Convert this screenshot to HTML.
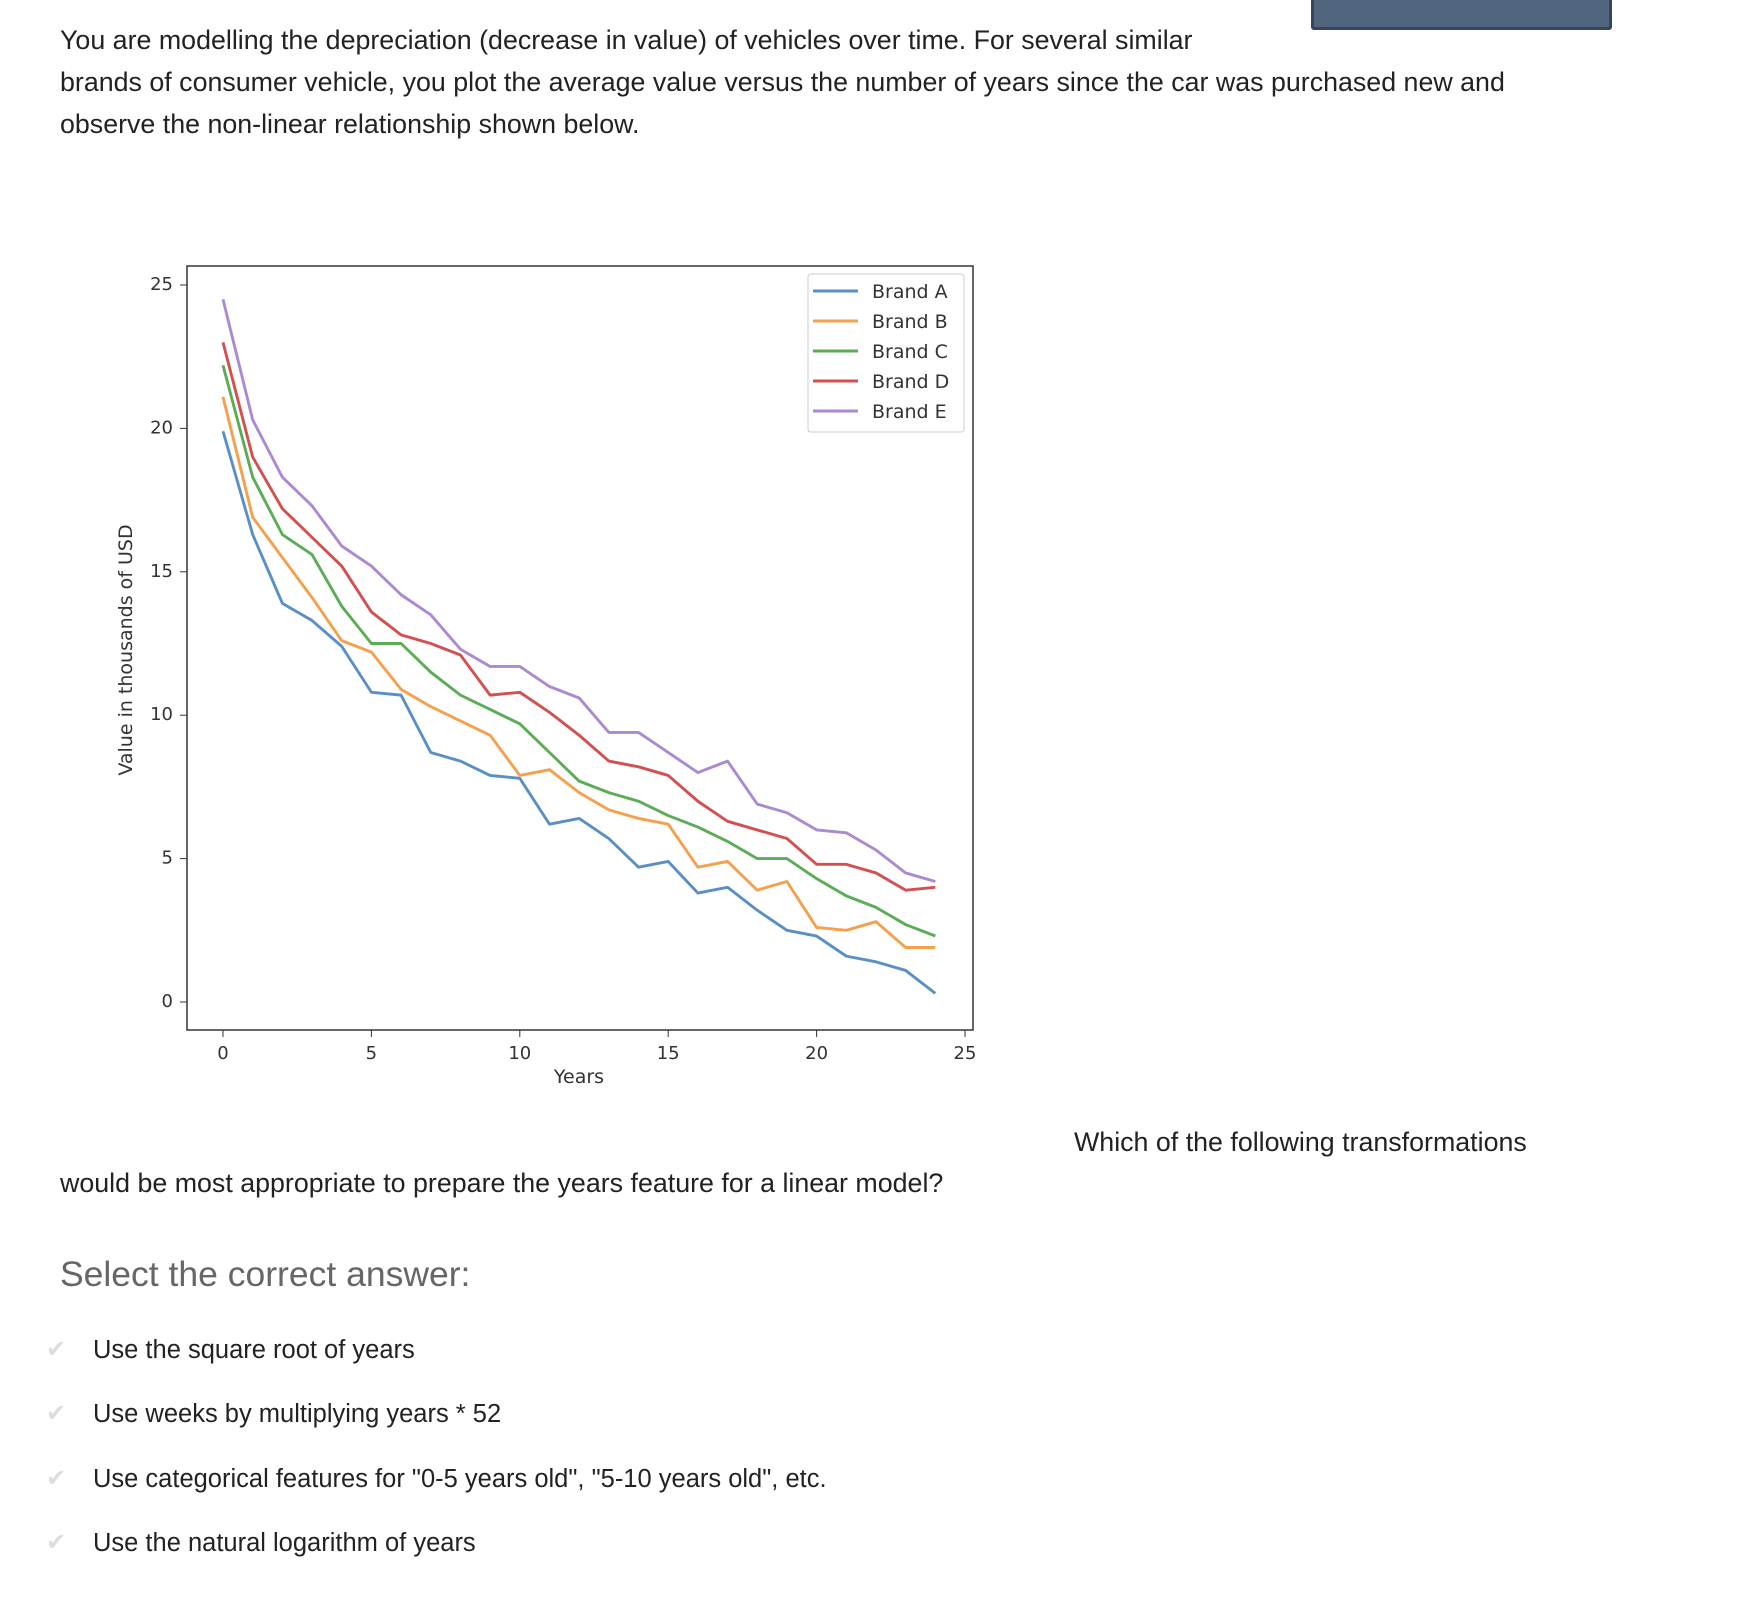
<!DOCTYPE html>
<html><head><meta charset="utf-8"><style>
body{margin:0;width:1764px;height:1604px;background:#fff;position:relative;overflow:hidden;font-family:"Liberation Sans",sans-serif;color:#222}
.t{position:absolute;font-size:26.8px;white-space:nowrap;line-height:1}
.opt{position:absolute;left:93px;font-size:25.5px;white-space:nowrap;line-height:1;color:#222}
.chk{position:absolute;left:46px;font-size:24px;color:#ddd;line-height:1}
</style></head><body>
<div style="position:absolute;left:1311px;top:-4px;width:295px;height:28px;background:#51657e;border:3px solid #34465a;border-radius:3px"></div>
<div class="t" style="left:60px;top:27px">You are modelling the depreciation (decrease in value) of vehicles over time. For several similar</div>
<div class="t" style="left:60px;top:69px">brands of consumer vehicle, you plot the average value versus the number of years since the car was purchased new and</div>
<div class="t" style="left:60px;top:111px">observe the non-linear relationship shown below.</div>

<svg id="chart" width="1764" height="1110" style="position:absolute;left:0;top:0" font-family="DejaVu Sans, sans-serif">
<rect x="187" y="266" width="786" height="764" fill="none" stroke="#333" stroke-width="1.5"/>
<g id="ticks"></g><g id="lines"></g>
<text x="579" y="1083" font-size="19" text-anchor="middle" fill="#333">Years</text>
<text transform="translate(132,650) rotate(-90)" font-size="19" text-anchor="middle" fill="#333">Value in thousands of USD</text>
<g>
<rect x="808" y="274" width="156" height="158" fill="#fff" stroke="#ccc" rx="3"/>
<g id="legend"></g></g>
</svg>

<div class="t" style="left:1074px;top:1129px">Which of the following transformations</div>
<div class="t" style="left:60px;top:1170px">would be most appropriate to prepare the years feature for a linear model?</div>
<div class="t" style="left:60px;top:1257px;font-size:35.5px;color:#666">Select the correct answer:</div>
<div class="chk" style="top:1338px">✔</div>
<div class="opt" style="top:1338px">Use the square root of years</div>
<div class="chk" style="top:1402px">✔</div>
<div class="opt" style="top:1402px">Use weeks by multiplying years * 52</div>
<div class="chk" style="top:1467px">✔</div>
<div class="opt" style="top:1467px">Use categorical features for "0-5 years old", "5-10 years old", etc.</div>
<div class="chk" style="top:1531px">✔</div>
<div class="opt" style="top:1531px">Use the natural logarithm of years</div>

<script>
const brands=["Brand A","Brand B","Brand C","Brand D","Brand E"];
const brandA=[19.9,16.3,13.9,13.3,12.4,10.8,10.7,8.7,8.4,7.9,7.8,6.2,6.4,5.7,4.7,4.9,3.8,4.0,3.2,2.5,2.3,1.6,1.4,1.1,0.3];
const brandB=[21.1,16.9,15.5,14.1,12.6,12.2,10.9,10.3,9.8,9.3,7.9,8.1,7.3,6.7,6.4,6.2,4.7,4.9,3.9,4.2,2.6,2.5,2.8,1.9,1.9];
const brandC=[22.2,18.3,16.3,15.6,13.8,12.5,12.5,11.5,10.7,10.2,9.7,8.7,7.7,7.3,7.0,6.5,6.1,5.6,5.0,5.0,4.3,3.7,3.3,2.7,2.3];
const brandD=[23.0,19.0,17.2,16.2,15.2,13.6,12.8,12.5,12.1,10.7,10.8,10.1,9.3,8.4,8.2,7.9,7.0,6.3,6.0,5.7,4.8,4.8,4.5,3.9,4.0];
const brandE=[24.5,20.3,18.3,17.3,15.9,15.2,14.2,13.5,12.3,11.7,11.7,11.0,10.6,9.4,9.4,8.7,8.0,8.4,6.9,6.6,6.0,5.9,5.3,4.5,4.2];
const xTicks=[0,5,10,15,20,25];
const yTicks=[0,5,10,15,20,25];
const series=[brandA,brandB,brandC,brandD,brandE];
const colors=["#5a8fc6","#f5a04c","#5aad55","#d35050","#aa8ad0"];
const NS="http://www.w3.org/2000/svg";
const xs=v=>223+v*(965-223)/25;
const ys=v=>1002-v*(1002-285)/25;
function mk(tag,attrs,parent){const e=document.createElementNS(NS,tag);for(const k in attrs)e.setAttribute(k,attrs[k]);parent.appendChild(e);return e;}
const tg=document.getElementById('ticks');
xTicks.forEach(t=>{
  const l=mk('line',{x1:xs(t),x2:xs(t),y1:1030,y2:1037,stroke:'#333'},tg);
  
  
  const tx=mk('text',{x:xs(t),y:1059,'font-size':18,'text-anchor':'middle',fill:'#333'},tg);
  
  
  tx.textContent=t;
});
yTicks.forEach(t=>{
  const l=mk('line',{x1:180,x2:187,y1:ys(t),y2:ys(t),stroke:'#333'},tg);
  
  
  const tx=mk('text',{x:173,y:ys(t)+5,'font-size':18,'text-anchor':'end',fill:'#333'},tg);
  
  
  tx.textContent=t;
});
const lg=document.getElementById('lines');
series.forEach((s,i)=>{
  const p=mk('polyline',{points:s.map((v,j)=>xs(j)+','+ys(v)).join(' '),fill:'none',stroke:colors[i],'stroke-width':2.9,'stroke-linejoin':'round'},lg);
  
  
});
const leg=document.getElementById('legend');
brands.forEach((b,i)=>{
  const y=291+i*30;
  const l=mk('line',{x1:813,x2:858,y1:y,y2:y,stroke:colors[i],'stroke-width':2.9},leg);
  
  
  const t=mk('text',{x:872,y:y+7,'font-size':19,fill:'#333'},leg);
  
  
  t.textContent=b;
});
</script>
</body></html>
